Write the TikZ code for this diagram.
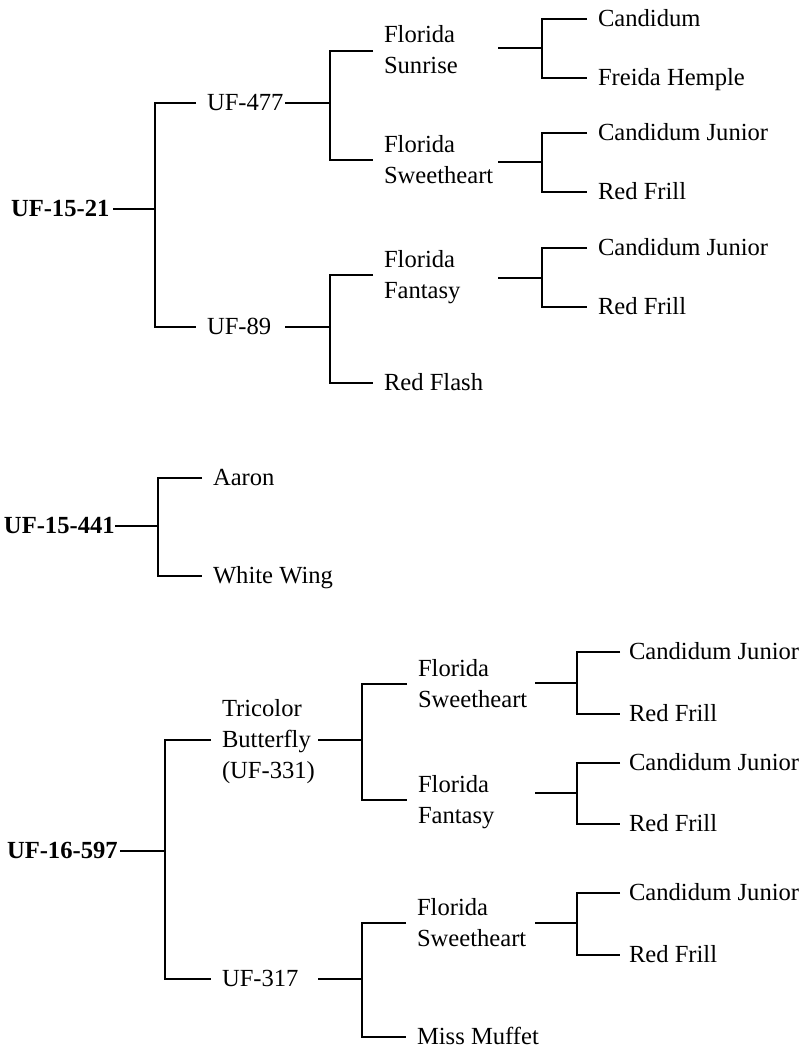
\documentclass[tikz,border=0pt]{standalone}
\usepackage{fontspec}
\setmainfont{Liberation Serif}
\newcommand\mline[1]{\smash{#1}\rule[-1pt]{0pt}{17pt}}
\tikzset{
  lbl/.style={anchor=west, inner xsep=11pt, inner ysep=0pt, outer sep=0pt, align=left,
    font={\fontsize{24.6}{31}\selectfont}},
  rootlbl/.style={anchor=west, inner sep=0pt, outer sep=0pt,
    font={\fontsize{24.6}{31}\selectfont\bfseries}},
  br/.style={line width=2pt, line join=miter, draw=black}
}
\begin{document}
\begin{tikzpicture}[x=1pt,y=-1pt]
\useasboundingbox (0,0) rectangle (802,1049);
% ---------- Tree 1 ----------
\node[rootlbl] (r1) at (11,209) {\mline{UF-15-21}};
\coordinate (s1) at (113,209); \coordinate (j1) at (155,209);
\node[lbl] (a1) at (196,103) {\mline{UF-477}};
\node[lbl] (a2) at (196,327) {\mline{UF-89}};
\draw[br] (s1) -- (j1);
\draw[br] (a1.west) -| (j1) |- (a2.west);

\coordinate (s2) at (285,103); \coordinate (j2) at (330,103);
\node[lbl] (b1) at (373,51) {\mline{Florida}\\\mline{Sunrise}};
\node[lbl] (b2) at (373,160) {\mline{Florida}\\\mline{Sweetheart}};
\draw[br] (s2) -- (j2);
\draw[br] (b1.west) -| (j2) |- (b2.west);

\coordinate (s3) at (285,327); \coordinate (j3) at (330,327);
\node[lbl] (b3) at (373,275) {\mline{Florida}\\\mline{Fantasy}};
\node[lbl] (b4) at (373,383) {\mline{Red Flash}};
\draw[br] (s3) -- (j3);
\draw[br] (b3.west) -| (j3) |- (b4.west);

\coordinate (s4) at (498,48); \coordinate (j4) at (542,48);
\node[lbl] (c1) at (587,19) {\mline{Candidum}};
\node[lbl] (c2) at (587,78) {\mline{Freida Hemple}};
\draw[br] (s4) -- (j4);
\draw[br] (c1.west) -| (j4) |- (c2.west);

\coordinate (s5) at (498,162); \coordinate (j5) at (542,162);
\node[lbl] (c3) at (587,133) {\mline{Candidum Junior}};
\node[lbl] (c4) at (587,192) {\mline{Red Frill}};
\draw[br] (s5) -- (j5);
\draw[br] (c3.west) -| (j5) |- (c4.west);

\coordinate (s6) at (498,278); \coordinate (j6) at (542,278);
\node[lbl] (c5) at (587,248) {\mline{Candidum Junior}};
\node[lbl] (c6) at (587,307) {\mline{Red Frill}};
\draw[br] (s6) -- (j6);
\draw[br] (c5.west) -| (j6) |- (c6.west);

% ---------- Tree 2 ----------
\node[rootlbl] (r2) at (4,526) {\mline{UF-15-441}};
\coordinate (s7) at (115,526); \coordinate (j7) at (158,526);
\node[lbl] (d1) at (202,478) {\mline{Aaron}};
\node[lbl] (d2) at (202,576) {\mline{White Wing}};
\draw[br] (s7) -- (j7);
\draw[br] (d1.west) -| (j7) |- (d2.west);

% ---------- Tree 3 ----------
\node[rootlbl] (r3) at (7,851) {\mline{UF-16-597}};
\coordinate (s8) at (120,851); \coordinate (j8) at (165,851);
\node[lbl] (t1) at (211,740) {\mline{Tricolor}\\\mline{Butterfly}\\\mline{(UF-331)}};
\node[lbl] (t2) at (211,979) {\mline{UF-317}};
\draw[br] (s8) -- (j8);
\draw[br] (t1.west) -| (j8) |- (t2.west);

\coordinate (s9) at (318,740); \coordinate (j9) at (362,740);
\node[lbl] (u1) at (407,684) {\mline{Florida}\\\mline{Sweetheart}};
\node[lbl] (u2) at (407,800) {\mline{Florida}\\\mline{Fantasy}};
\draw[br] (s9) -- (j9);
\draw[br] (u1.west) -| (j9) |- (u2.west);

\coordinate (s10) at (318,979); \coordinate (j10) at (362,979);
\node[lbl] (u3) at (406,923) {\mline{Florida}\\\mline{Sweetheart}};
\node[lbl] (u4) at (406,1037) {\mline{Miss Muffet}};
\draw[br] (s10) -- (j10);
\draw[br] (u3.west) -| (j10) |- (u4.west);

\coordinate (s11) at (535,683); \coordinate (j11) at (577,683);
\node[lbl, inner xsep=9pt] (v1) at (620,652) {\mline{Candidum Junior}};
\node[lbl, inner xsep=9pt] (v2) at (620,714) {\mline{Red Frill}};
\draw[br] (s11) -- (j11);
\draw[br] (v1.west) -| (j11) |- (v2.west);

\coordinate (s12) at (535,793); \coordinate (j12) at (577,793);
\node[lbl, inner xsep=9pt] (v3) at (620,763) {\mline{Candidum Junior}};
\node[lbl, inner xsep=9pt] (v4) at (620,824) {\mline{Red Frill}};
\draw[br] (s12) -- (j12);
\draw[br] (v3.west) -| (j12) |- (v4.west);

\coordinate (s13) at (535,923); \coordinate (j13) at (577,923);
\node[lbl, inner xsep=9pt] (v5) at (620,893) {\mline{Candidum Junior}};
\node[lbl, inner xsep=9pt] (v6) at (620,955) {\mline{Red Frill}};
\draw[br] (s13) -- (j13);
\draw[br] (v5.west) -| (j13) |- (v6.west);
\end{tikzpicture}
\end{document}
